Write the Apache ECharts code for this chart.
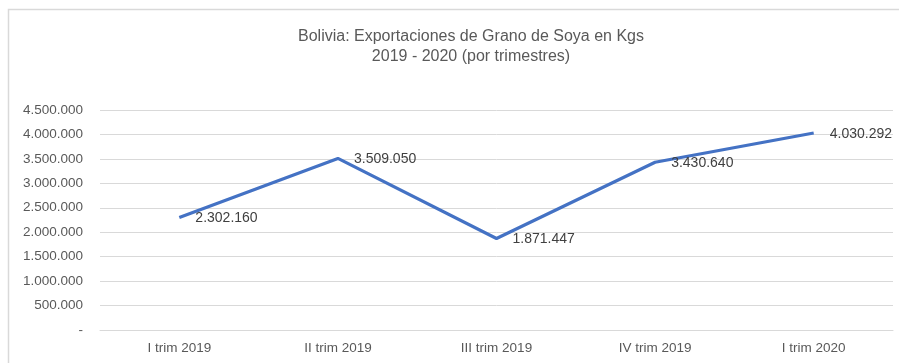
<!DOCTYPE html>
<html>
<head>
<meta charset="utf-8">
<script src="https://cdn.jsdelivr.net/npm/echarts@6/dist/echarts.min.js"></script>
<style>
  html, body { margin: 0; padding: 0; background: #fff; }
  #chart { width: 899px; height: 363px; }
</style>
</head>
<body>
<div id="chart"></div>
<script>
// Quarterly soybean exports (kg)
const quarters = ['I trim 2019', 'II trim 2019', 'III trim 2019', 'IV trim 2019', 'I trim 2020'];
const exportsKg = [2302160, 3509050, 1871447, 3430640, 4030292];
const titleLines = ['Bolivia: Exportaciones de Grano de Soya en Kgs', '2019 - 2020 (por trimestres)'];

// Thousands separated by dots, zero shown as a dash
function fmt(v) {
  if (v === 0) return '-';
  return String(Math.round(v)).replace(/\B(?=(\d{3})+(?!\d))/g, '.');
}

const chart = echarts.init(document.getElementById('chart'));
const fontFamily = '"Liberation Sans", "Open Sans", sans-serif';

chart.setOption({
  animation: false,
  backgroundColor: '#ffffff',
  textStyle: { fontFamily: fontFamily },
  graphic: [{
    type: 'rect',
    shape: { x: 8.5, y: 9.5, width: 900, height: 360 },
    style: { fill: 'none', stroke: '#d9d9d9', lineWidth: 1.5 },
    silent: true
  }],
  title: {
    text: titleLines.join('\n'),
    left: 466,
    top: 22,
    textAlign: 'center',
    textStyle: {
      fontFamily: fontFamily,
      fontSize: 16,
      fontWeight: 'normal',
      color: '#595959',
      lineHeight: 20
    }
  },
  grid: { left: 100, right: 6, top: 110, bottom: 33, containLabel: false },
  xAxis: {
    type: 'category',
    data: quarters,
    boundaryGap: true,
    axisLine: { show: true, lineStyle: { color: '#d9d9d9', width: 1 } },
    axisTick: { show: false },
    axisLabel: { color: '#595959', fontSize: 13.5, margin: 11, fontFamily: fontFamily }
  },
  yAxis: {
    type: 'value',
    min: 0,
    max: 4500000,
    interval: 500000,
    axisLine: { show: false },
    axisTick: { show: false },
    splitLine: { lineStyle: { color: '#d9d9d9', width: 1 } },
    axisLabel: { color: '#595959', fontSize: 13.5, margin: 17, formatter: fmt, fontFamily: fontFamily }
  },
  series: [{
    type: 'line',
    data: exportsKg,
    showSymbol: true,
    symbol: 'circle',
    symbolSize: 0.1,
    lineStyle: { color: '#4472c4', width: 3.2 },
    itemStyle: { color: '#4472c4' },
    label: {
      show: true,
      position: 'right',
      distance: 0,
      offset: [16, 1],
      color: '#404040',
      fontSize: 14,
      fontFamily: fontFamily,
      formatter: p => fmt(p.value)
    }
  }]
});
</script>
</body>
</html>
